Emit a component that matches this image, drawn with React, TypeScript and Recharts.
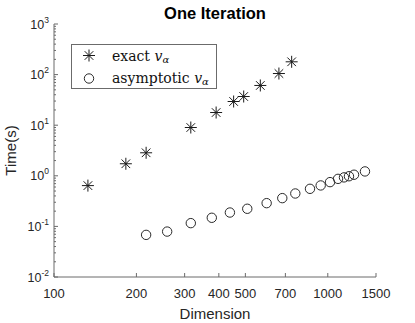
import React from 'react';
import { ScatterChart, Scatter, XAxis, YAxis } from 'recharts';

// exact v_alpha timings
const exactDim = [133, 183, 217, 316, 391, 453, 493, 567, 663, 738];
const exactTime = [0.64, 1.73, 2.85, 9.0, 17.8, 29.4, 36.9, 61, 105, 179];

// asymptotic v_alpha timings
const asymDim = [217, 259, 316, 377, 439, 508, 598, 682, 761, 861, 942, 1019, 1090, 1146, 1195, 1247, 1367];
const asymTime = [0.068, 0.079, 0.116, 0.148, 0.188, 0.223, 0.288, 0.362, 0.447, 0.553, 0.645, 0.75, 0.87, 0.93, 0.98, 1.05, 1.22];

const xTicks = [100, 200, 300, 400, 500, 700, 1000, 1500];
const yMajor = [0.01, 0.1, 1, 10, 100, 1000];

const yTicks: number[] = [];
yMajor.forEach((m, i) => {
  if (i === yMajor.length - 1) { yTicks.push(m); return; }
  for (let k = 1; k <= 9; k++) yTicks.push(+(m * k).toPrecision(3));
});

const exactData = exactDim.map((d, i) => ({ x: d, y: exactTime[i] }));
const asymData = asymDim.map((d, i) => ({ x: d, y: asymTime[i] }));

const AX = '#6b6b6b';
const TXT = '#262626';
const SANS = '"Liberation Sans", Arial, Helvetica, sans-serif';

const isMajor = (v: number) => Math.abs(Math.log10(v) - Math.round(Math.log10(v))) < 1e-6;

const BottomTick = (p: any) => {
  const { x, y, payload } = p;
  return (
    <g>
      <line x1={x} x2={x} y1={y} y2={y - 4} stroke={AX} />
      <text x={x} y={y + 20.5} textAnchor="middle" fontSize={13} fill={TXT} fontFamily={SANS}>
        {payload.value}
      </text>
    </g>
  );
};

const TopTick = (p: any) => {
  const { x, y } = p;
  return <line x1={x} x2={x} y1={y} y2={y + 4} stroke={AX} />;
};

const LeftTick = (p: any) => {
  const { x, y, payload } = p;
  const v = payload.value;
  const major = isMajor(v);
  const exp = Math.round(Math.log10(v));
  return (
    <g>
      <line x1={x} x2={x + (major ? 4 : 2)} y1={y} y2={y} stroke={AX} />
      {major && (
        <text x={x - 5} y={y + 4.5} textAnchor="end" fontSize={12.5} fill={TXT} fontFamily={SANS}>
          10
          <tspan dy={-6} fontSize={8.5}>{exp}</tspan>
        </text>
      )}
    </g>
  );
};

const RightTick = (p: any) => {
  const { x, y, payload } = p;
  const major = isMajor(payload.value);
  return <line x1={x} x2={x - (major ? 4 : 2)} y1={y} y2={y} stroke={AX} />;
};

const StarShape = (p: any) => {
  const { cx, cy } = p;
  const r = 6;
  const d = 4.3;
  return (
    <g stroke="#1a1a1a" strokeWidth={1}>
      <line x1={cx - r} x2={cx + r} y1={cy} y2={cy} />
      <line x1={cx} x2={cx} y1={cy - r} y2={cy + r} />
      <line x1={cx - d} x2={cx + d} y1={cy - d} y2={cy + d} />
      <line x1={cx - d} x2={cx + d} y1={cy + d} y2={cy - d} />
    </g>
  );
};

const CircleShape = (p: any) => {
  const { cx, cy } = p;
  return <circle cx={cx} cy={cy} r={4.7} fill="none" stroke="#2a2a2a" strokeWidth={1} />;
};

const XLabel = (p: any) => {
  const vb = p.viewBox;
  return (
    <text x={vb.x + vb.width / 2} y={vb.y + 42} textAnchor="middle" fontSize={15} fill={TXT} fontFamily={SANS}>
      Dimension
    </text>
  );
};

const YLabel = (p: any) => {
  const vb = p.viewBox;
  const cy = vb.y + vb.height / 2;
  return (
    <text x={16} y={cy} transform={`rotate(-90 16 ${cy})`} textAnchor="middle" fontSize={15} fill={TXT} fontFamily={SANS}>
      Time(s)
    </text>
  );
};

const LegendMath = ({ word }: { word: string }) => (
  <span>
    {word} <i>v</i>
    <sub style={{ fontSize: 10, fontStyle: 'italic', verticalAlign: -2 }}>α</sub>
  </span>
);

export default function App() {
  return (
    <div style={{ position: 'absolute', left: 0, top: 0, width: 415, height: 323, background: '#fff' }}>
      <div
        style={{
          position: 'absolute', left: 54, width: 322, top: 3, textAlign: 'center',
          fontFamily: SANS, fontWeight: 'bold', fontSize: 16.5, color: '#000', lineHeight: '20px',
        }}
      >
        One Iteration
      </div>
      <ScatterChart width={415} height={323} margin={{ top: 24, right: 39, bottom: 0, left: 0 }}>
        <XAxis
          dataKey="x" type="number" scale="log" domain={[100, 1500]} ticks={xTicks} interval={0}
          allowDataOverflow height={46} tickSize={0} tickMargin={0} tick={<BottomTick />}
          axisLine={{ stroke: AX }} label={XLabel}
        />
        <XAxis
          xAxisId="top" orientation="top" dataKey="x" type="number" scale="log" domain={[100, 1500]}
          ticks={xTicks} interval={0} allowDataOverflow height={0} tickSize={0} tickMargin={0}
          tick={<TopTick />} axisLine={{ stroke: AX }}
        />
        <YAxis
          dataKey="y" type="number" scale="log" domain={[0.01, 1000]} ticks={yTicks} interval={0}
          allowDataOverflow width={54} tickSize={0} tickMargin={0} tick={<LeftTick />}
          axisLine={{ stroke: AX }} label={YLabel}
        />
        <YAxis
          yAxisId="right" orientation="right" dataKey="y" type="number" scale="log" domain={[0.01, 1000]}
          ticks={yTicks} interval={0} allowDataOverflow width={0} tickSize={0} tickMargin={0}
          tick={<RightTick />} axisLine={{ stroke: AX }}
        />
        <Scatter data={exactData} shape={StarShape} isAnimationActive={false} />
        <Scatter data={asymData} shape={CircleShape} isAnimationActive={false} />
      </ScatterChart>
      <div
        style={{
          position: 'absolute', left: 71, top: 44, width: 144, height: 43, border: `1px solid ${AX}`,
          background: '#fff', fontFamily: '"DejaVu Serif", "Liberation Serif", serif', fontSize: 14, color: '#111',
        }}
      >
        <svg width={30} height={43} style={{ position: 'absolute', left: 0, top: 0 }}>
          <StarShape cx={17} cy={10.5} />
          <CircleShape cx={17} cy={33.5} />
        </svg>
        <div style={{ position: 'absolute', left: 40, top: 1, lineHeight: '20px', whiteSpace: 'nowrap' }}>
          <LegendMath word="exact" />
        </div>
        <div style={{ position: 'absolute', left: 40, top: 23, lineHeight: '20px', whiteSpace: 'nowrap' }}>
          <LegendMath word="asymptotic" />
        </div>
      </div>
    </div>
  );
}
